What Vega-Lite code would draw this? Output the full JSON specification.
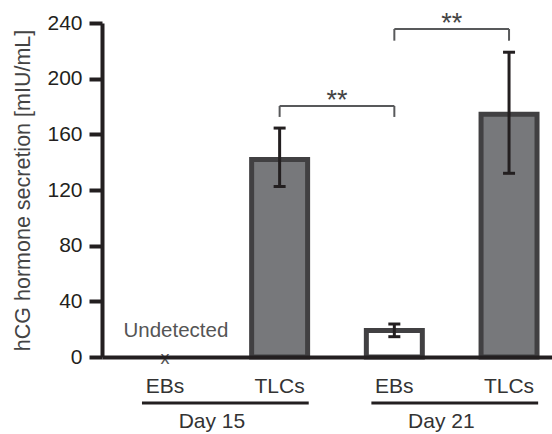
{
  "$schema": "https://vega.github.io/schema/vega-lite/v6.json",
  "width": 450,
  "height": 334,
  "autosize": {"type": "none"},
  "padding": {"left": 102, "top": 23, "right": 0, "bottom": 77},
  "config": {"font": "Liberation Sans", "view": {"stroke": null}, "axis": {"grid": false}},
  "datasets": {
    "bars": [
      {"key": "Day 15 EBs", "day": "Day 15", "cell": "EBs", "mean": null, "lo": null, "hi": null, "note": "Undetected"},
      {"key": "Day 15 TLCs", "day": "Day 15", "cell": "TLCs", "mean": 142, "lo": 122.5, "hi": 164.5, "note": null},
      {"key": "Day 21 EBs", "day": "Day 21", "cell": "EBs", "mean": 19, "lo": 14.6, "hi": 23.7, "note": null},
      {"key": "Day 21 TLCs", "day": "Day 21", "cell": "TLCs", "mean": 174.5, "lo": 132, "hi": 219, "note": null}
    ],
    "brackets": [
      {"from": "Day 15 TLCs", "to": "Day 21 EBs", "top": 180.4, "leg": 172.5, "label": "**"},
      {"from": "Day 21 EBs", "to": "Day 21 TLCs", "top": 235.7, "leg": 227.3, "label": "**"}
    ],
    "groups": [
      {"day": "Day 15", "first": "Day 15 EBs", "last": "Day 15 TLCs"},
      {"day": "Day 21", "first": "Day 21 EBs", "last": "Day 21 TLCs"}
    ]
  },
  "layer": [
    {
      "data": {"name": "bars"},
      "mark": {"type": "bar", "stroke": "#414042", "strokeWidth": 5},
      "encoding": {
        "x": {
          "field": "key", "type": "nominal", "sort": null,
          "scale": {"type": "band", "domain": ["Day 15 EBs", "Day 15 TLCs", "Day 21 EBs", "Day 21 TLCs"], "paddingInner": 0.512, "paddingOuter": 0.2175, "align": 0.7},
          "axis": {"title": null, "labelExpr": "split(datum.label, ' ')[2]", "labelAngle": 0, "labelFontSize": 21, "labelColor": "#333333", "labelPadding": 18, "ticks": false, "tickSize": 0, "domainColor": "#231f20", "domainWidth": 4, "zindex": 1}
        },
        "y": {
          "field": "mean", "type": "quantitative",
          "scale": {"domain": [0, 240], "nice": false},
          "axis": {"title": "hCG hormone secretion [mIU/mL]", "values": [0, 40, 80, 120, 160, 200, 240], "titleFontSize": 21.5, "titleFontWeight": "normal", "titleColor": "#444444", "titlePadding": 12, "labelFontSize": 21, "labelColor": "#231f20", "labelPadding": 7, "tickSize": 13, "tickWidth": 4, "tickColor": "#231f20", "domainColor": "#231f20", "domainWidth": 4, "zindex": 1}
        },
        "fill": {"field": "cell", "type": "nominal", "scale": {"domain": ["EBs", "TLCs"], "range": ["#ffffff", "#77787b"]}, "legend": null}
      }
    },
    {
      "data": {"name": "bars"},
      "mark": {"type": "rule", "color": "#231f20", "strokeWidth": 3},
      "encoding": {
        "x": {"field": "key", "type": "nominal"},
        "y": {"field": "lo", "type": "quantitative"},
        "y2": {"field": "hi"}
      }
    },
    {
      "data": {"name": "bars"},
      "mark": {"type": "tick", "size": 12, "thickness": 3, "color": "#231f20", "opacity": 1},
      "encoding": {
        "x": {"field": "key", "type": "nominal"},
        "y": {"field": "hi", "type": "quantitative"}
      }
    },
    {
      "data": {"name": "bars"},
      "mark": {"type": "tick", "size": 12, "thickness": 3, "color": "#231f20", "opacity": 1},
      "encoding": {
        "x": {"field": "key", "type": "nominal"},
        "y": {"field": "lo", "type": "quantitative"}
      }
    },
    {
      "data": {"name": "bars"},
      "transform": [{"filter": "datum.note != null"}],
      "mark": {"type": "text", "fontSize": 20.5, "color": "#555555", "baseline": "middle", "align": "center", "dx": 11},
      "encoding": {
        "x": {"field": "key", "type": "nominal"},
        "y": {"datum": 18.7, "type": "quantitative"},
        "text": {"field": "note"}
      }
    },
    {
      "data": {"name": "bars"},
      "transform": [{"filter": "datum.note != null"}],
      "mark": {"type": "text", "text": "x", "fontSize": 18, "color": "#555555", "baseline": "middle", "align": "center", "dy": 2},
      "encoding": {
        "x": {"field": "key", "type": "nominal"},
        "y": {"datum": 0, "type": "quantitative"}
      }
    },
    {
      "data": {"name": "brackets"},
      "mark": {"type": "rule", "color": "#58595b", "strokeWidth": 2},
      "encoding": {
        "x": {"field": "from", "type": "nominal"},
        "x2": {"field": "to"},
        "y": {"field": "top", "type": "quantitative"}
      }
    },
    {
      "data": {"name": "brackets"},
      "mark": {"type": "rule", "color": "#58595b", "strokeWidth": 2},
      "encoding": {
        "x": {"field": "from", "type": "nominal"},
        "y": {"field": "top", "type": "quantitative"},
        "y2": {"field": "leg"}
      }
    },
    {
      "data": {"name": "brackets"},
      "mark": {"type": "rule", "color": "#58595b", "strokeWidth": 2},
      "encoding": {
        "x": {"field": "to", "type": "nominal"},
        "y": {"field": "top", "type": "quantitative"},
        "y2": {"field": "leg"}
      }
    },
    {
      "data": {"name": "brackets"},
      "mark": {"type": "text", "fontSize": 27, "color": "#444444", "baseline": "alphabetic", "align": "center", "dy": 3},
      "encoding": {
        "x": {"field": "from", "type": "nominal", "bandPosition": 1.524},
        "y": {"field": "top", "type": "quantitative"},
        "text": {"field": "label"}
      }
    },
    {
      "data": {"name": "groups"},
      "mark": {"type": "rule", "color": "#231f20", "strokeWidth": 3},
      "encoding": {
        "x": {"field": "first", "type": "nominal", "bandPosition": 0.09},
        "x2": {"field": "last", "bandPosition": 1.02},
        "y": {"datum": -33, "type": "quantitative"}
      }
    },
    {
      "data": {"name": "groups"},
      "mark": {"type": "text", "fontSize": 21, "color": "#333333", "baseline": "middle", "align": "center"},
      "encoding": {
        "x": {"field": "first", "type": "nominal", "bandPosition": 1.34},
        "y": {"datum": -46.7, "type": "quantitative"},
        "text": {"field": "day"}
      }
    }
  ]
}
